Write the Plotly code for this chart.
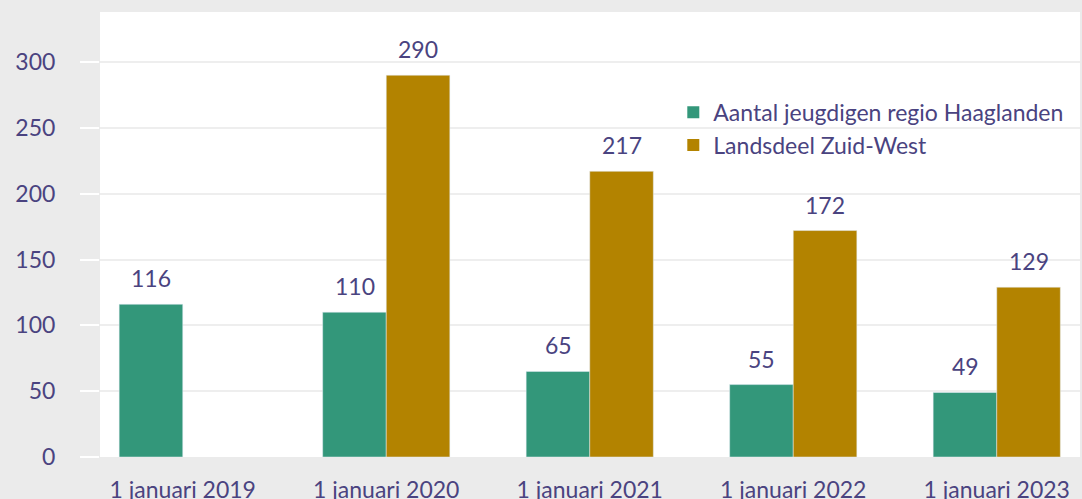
import plotly.graph_objects as go

# data
jaren = ["1 januari 2019", "1 januari 2020", "1 januari 2021", "1 januari 2022", "1 januari 2023"]
haaglanden = [116, 110, 65, 55, 49]
zuid_west = [None, 290, 217, 172, 129]

groen = "#33977a"
goud = "#b38300"
paars = "#4a4380"
grijs = "#ebebeb"
lettertype = "Lato"
grootte = 23

fig = go.Figure()

# bars
fig.add_trace(go.Bar(x=jaren, y=haaglanden, marker_color=groen, showlegend=False))
fig.add_trace(go.Bar(x=jaren, y=zuid_west, marker_color=goud, showlegend=False))

# waardes boven de bars (iets hoger dan plotly's eigen tekst)
for reeks, verschuiving in [(haaglanden, -31.75), (zuid_west, 31.75)]:
    for jaar, waarde in zip(jaren, reeks):
        if waarde is None:
            continue
        fig.add_annotation(x=jaar, y=waarde, text=str(waarde), showarrow=False,
                           xshift=verschuiving, yshift=26, yanchor="middle",
                           font=dict(size=grootte, color=paars, family=lettertype))

# legenda met grotere vierkantjes
fig.add_trace(go.Scatter(x=[None], y=[None], mode="markers", name="Aantal jeugdigen regio Haaglanden",
                         marker=dict(symbol="square", size=18, color=groen)))
fig.add_trace(go.Scatter(x=[None], y=[None], mode="markers", name="Landsdeel Zuid-West",
                         marker=dict(symbol="square", size=18, color=goud)))

# afstand tussen categorieen ~203.5 px, plotgebied begint bij x=100
links = -0.5 + 19 / 203.5
rechts = links + 980 / 203.5

fig.update_layout(
    width=1082, height=499,
    margin=dict(l=100, r=2, t=12, b=42),
    paper_bgcolor=grijs,
    plot_bgcolor="white",
    barmode="group",
    bargap=0.375,
    bargroupgap=0,
    font=dict(family=lettertype, size=grootte, color=paars),
    legend=dict(x=0.585, y=0.823, xanchor="left", yanchor="top",
                bgcolor="rgba(0,0,0,0)", font=dict(size=grootte, color=paars),
                tracegroupgap=0, itemsizing="constant"),
    xaxis=dict(type="category", range=[links, rechts], showgrid=False, showline=False,
               ticks="outside", ticklen=12, tickcolor="rgba(0,0,0,0)", automargin=False,
               tickfont=dict(size=grootte, color=paars), fixedrange=True),
    yaxis=dict(range=[0, 338], tickvals=[0, 50, 100, 150, 200, 250, 300],
               showgrid=True, gridcolor="#eeeeee", gridwidth=2, zeroline=False,
               ticks="outside", ticklen=19, tickcolor="white", tickwidth=2,
               ticklabelstandoff=20, automargin=False,
               tickfont=dict(size=grootte, color=paars), showline=False),
)

# standaard body-marge van de pagina weghalen, geen modebar
fig.write_html("out.html", config={"displayModeBar": False},
               post_script="document.body.style.margin='0';")
